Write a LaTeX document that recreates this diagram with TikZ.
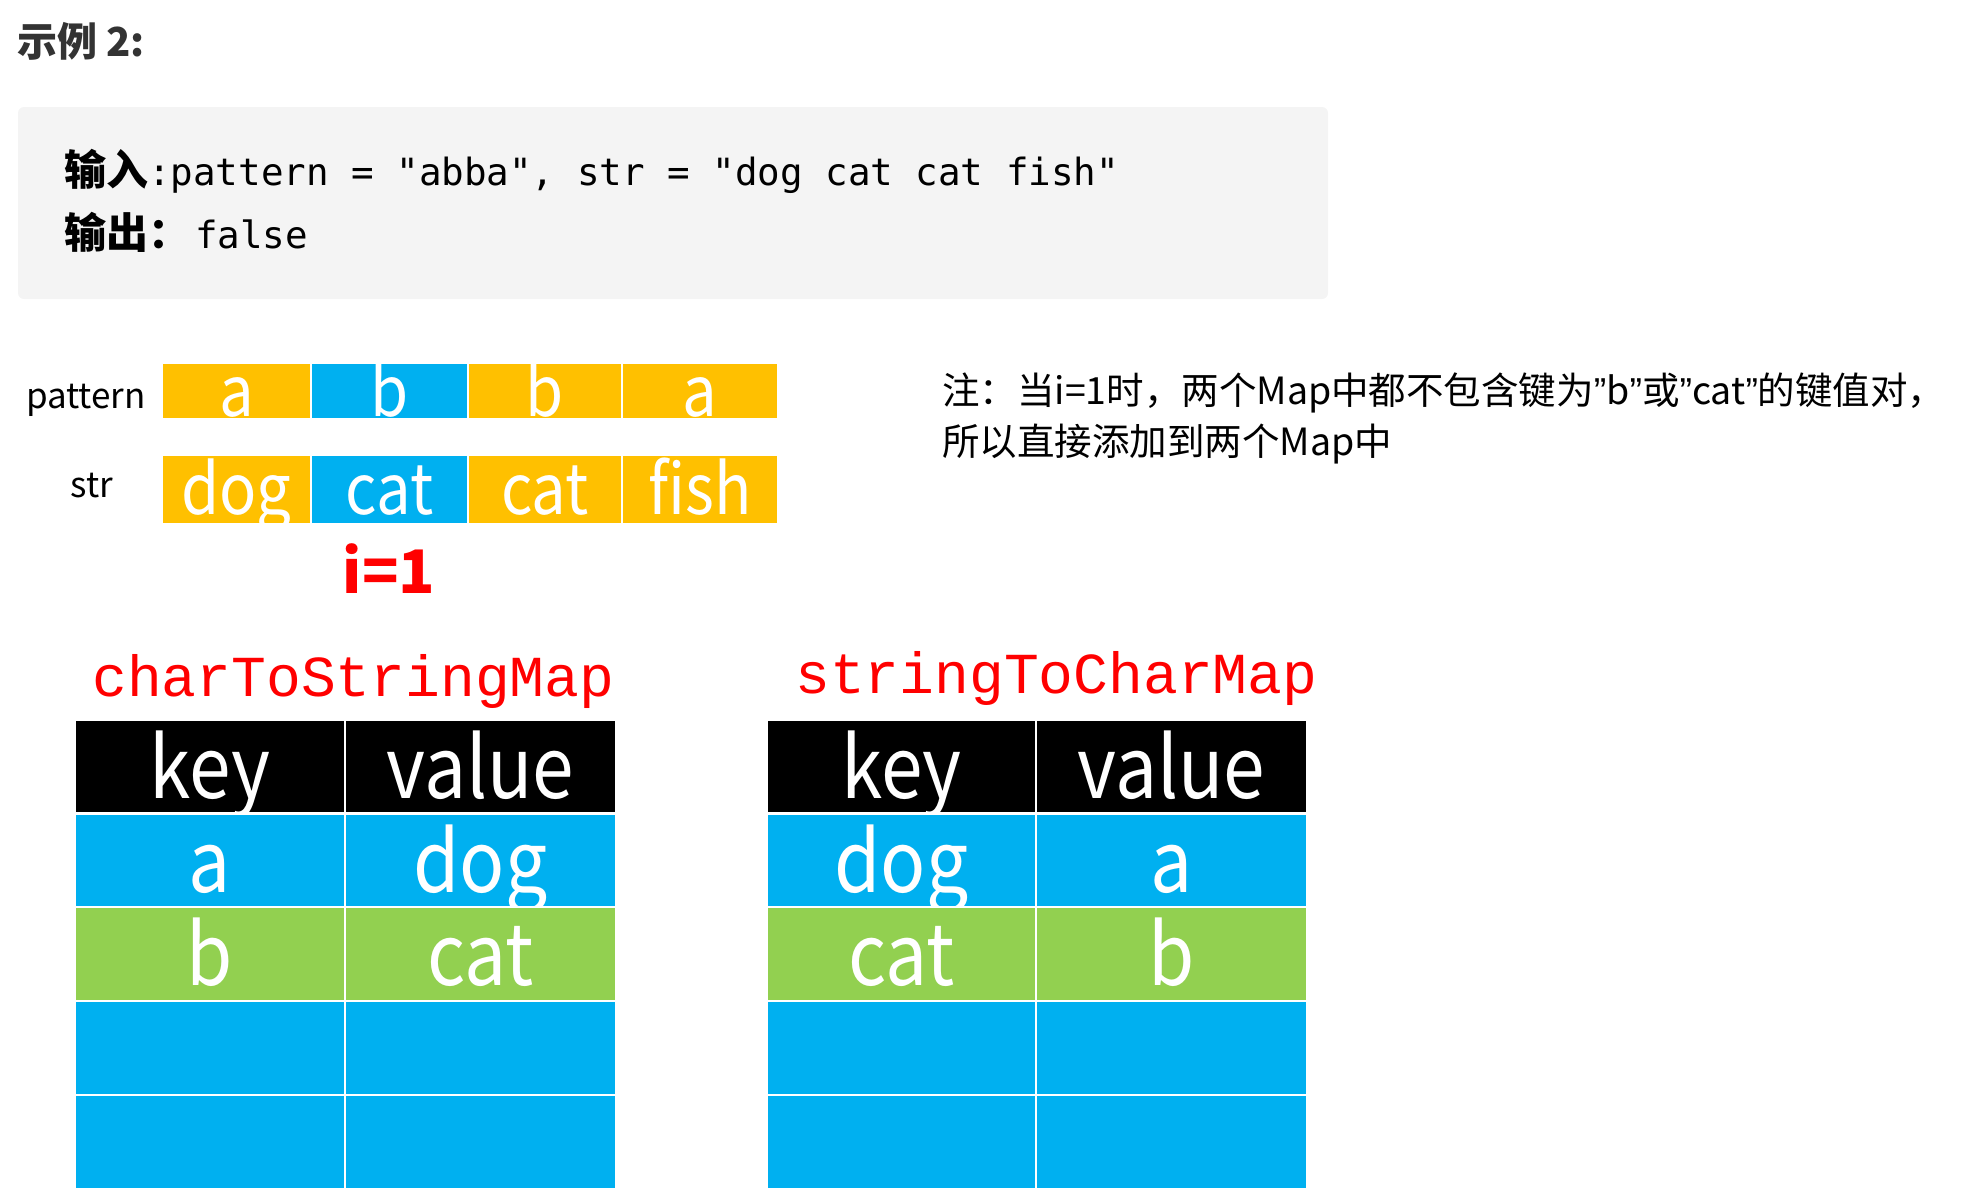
\documentclass[tikz,border=0pt]{standalone}
\usepackage{fontspec}
\setmainfont{Noto Sans CJK SC}
\newfontfamily\codefont{DejaVu Sans Mono}
\newfontfamily\courfont{Liberation Mono}
\newfontfamily\cellfont[FakeStretch=0.88]{Noto Sans CJK SC}
\newfontfamily\quotefont{Liberation Sans}
\definecolor{cyel}{HTML}{FFC000}
\definecolor{cblu}{HTML}{00B0F0}
\definecolor{cgrn}{HTML}{92D050}
\definecolor{cred}{HTML}{FF0000}
\definecolor{cgrey}{HTML}{F4F4F4}
\definecolor{ctxt}{HTML}{333333}
\newcommand{\myrq}{{\quotefont ”}}
\tikzset{
  pcell/.style={draw=white, line width=2.5bp, inner sep=0pt, minimum height=57bp,
    text=white, text height=50bp, text depth=0pt, font=\cellfont\fontsize{70bp}{80bp}\selectfont},
  scell/.style={pcell, minimum height=70bp},
  tcell/.style={draw=white, line width=2.5bp, inner sep=0pt, minimum height=94bp,
    text=white, text height=63bp, text depth=0pt, font=\cellfont\fontsize{85bp}{95bp}\selectfont},
  lbl/.style={inner sep=0pt, anchor=base, font=\fontsize{35bp}{40bp}\selectfont},
  note/.style={inner sep=0pt, anchor=base west, font=\fontsize{37.5bp}{42bp}\selectfont},
  mtitle/.style={inner sep=0pt, anchor=base west, text=cred, font=\courfont\fontsize{58bp}{64bp}\selectfont},
}
\begin{document}
\begin{tikzpicture}[x=1bp,y=-1bp]
\useasboundingbox (0,0) rectangle (1963,1189);
% heading
\node[inner sep=0pt, anchor=base west, text=ctxt, font=\bfseries\fontsize{40bp}{46bp}\selectfont] (head) at (17,56) {示例 2:};
% code box
\fill[cgrey, rounded corners=6bp] (18,107) rectangle (1328,299);
\node[inner sep=0pt, anchor=base west, font=\fontsize{42bp}{48bp}\selectfont] (in1) at (64,185)
  {{\bfseries 输入}{\codefont\fontsize{37.5bp}{44bp}\selectfont :pattern = "abba", str = "dog cat cat fish"}};
\node[inner sep=0pt, anchor=base west, font=\fontsize{42bp}{48bp}\selectfont] (out1) at (64,248)
  {{\bfseries 输出：}\hspace{5bp}{\codefont\fontsize{37.5bp}{44bp}\selectfont false}};
% labels
\node[lbl] (lp) at (86,408) {pattern};
\node[lbl] (ls) at (92,497) {str};
% pattern row
\node[pcell, fill=cyel, minimum width=149bp] (p1) at (236.5,391) {a};
\node[pcell, fill=cblu, minimum width=157bp] (p2) at (389.5,391) {b};
\node[pcell, fill=cyel, minimum width=154bp] (p3) at (545,391) {b};
\node[pcell, fill=cyel, minimum width=156bp] (p4) at (700,391) {a};
% str row
\node[scell, fill=cyel, minimum width=149bp, text height=49bp] (s1) at (236.5,489.5) {dog};
\node[scell, fill=cblu, minimum width=157bp, text height=49bp] (s2) at (389.5,489.5) {cat};
\node[scell, fill=cyel, minimum width=154bp, text height=49bp] (s3) at (545,489.5) {cat};
\node[scell, fill=cyel, minimum width=156bp, text height=49bp] (s4) at (700,489.5) {fish};
% i=1
\node[inner sep=0pt, anchor=base, text=cred, font=\bfseries\fontsize{60bp}{68bp}\selectfont] (idx) at (389,593) {i=1};
% note
\node[note] (n1) at (942,404) {注：当i=1时，两个Map中都不包含键为\myrq b\myrq 或\myrq cat\myrq 的键值对，};
\node[note] (n2) at (942,455) {所以直接添加到两个Map中};
% map titles
\node[mtitle] (t1) at (92,696) {charToStringMap};
\node[mtitle] (t2) at (795,693) {stringToCharMap};
% left table
\node[tcell, fill=black, minimum width=270bp] (a00) at (210,767) {key};
\node[tcell, fill=black, minimum width=271bp] (a01) at (480.5,767) {value};
\node[tcell, fill=cblu, minimum width=270bp] (a10) at (210,860.5) {a};
\node[tcell, fill=cblu, minimum width=271bp] (a11) at (480.5,860.5) {dog};
\node[tcell, fill=cgrn, minimum width=270bp] (a20) at (210,954) {b};
\node[tcell, fill=cgrn, minimum width=271bp] (a21) at (480.5,954) {cat};
\node[tcell, fill=cblu, minimum width=270bp] (a30) at (210,1048) {};
\node[tcell, fill=cblu, minimum width=271bp] (a31) at (480.5,1048) {};
\node[tcell, fill=cblu, minimum width=270bp] (a40) at (210,1142) {};
\node[tcell, fill=cblu, minimum width=271bp] (a41) at (480.5,1142) {};
% right table
\node[tcell, fill=black, minimum width=269bp] (b00) at (901.5,767) {key};
\node[tcell, fill=black, minimum width=271bp] (b01) at (1171.5,767) {value};
\node[tcell, fill=cblu, minimum width=269bp] (b10) at (901.5,860.5) {dog};
\node[tcell, fill=cblu, minimum width=271bp] (b11) at (1171.5,860.5) {a};
\node[tcell, fill=cgrn, minimum width=269bp] (b20) at (901.5,954) {cat};
\node[tcell, fill=cgrn, minimum width=271bp] (b21) at (1171.5,954) {b};
\node[tcell, fill=cblu, minimum width=269bp] (b30) at (901.5,1048) {};
\node[tcell, fill=cblu, minimum width=271bp] (b31) at (1171.5,1048) {};
\node[tcell, fill=cblu, minimum width=269bp] (b40) at (901.5,1142) {};
\node[tcell, fill=cblu, minimum width=271bp] (b41) at (1171.5,1142) {};
\end{tikzpicture}
\end{document}
